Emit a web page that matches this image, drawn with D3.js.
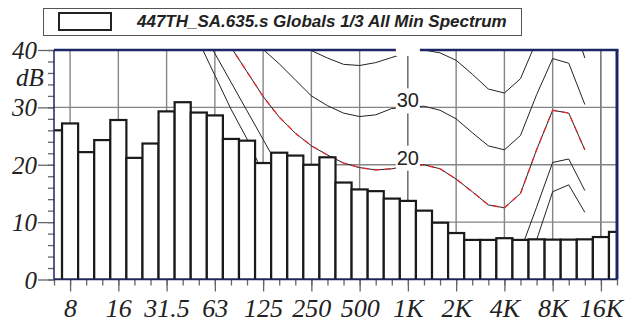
<!DOCTYPE html>
<meta charset="utf-8">
<script src="https://d3js.org/d3.v7.min.js"></script>
<style>
  body { margin: 0; background: #fff; }
</style>
<div id="chart"></div>
<script>
// 1/3 octave bands
var bands = ["6.3","8","10","12.5","16","20","25","31.5","40","50","63","80","100","125","160","200","250","315","400","500","630","800","1K","1.25K","1.6K","2K","2.5K","3.15K","4K","5K","6.3K","8K","10K","12.5K","16K","20K"];
// min spectrum, dB
var levels = [26.0,27.2,22.2,24.3,27.8,21.2,23.7,29.3,30.9,29.1,28.6,24.5,24.2,20.3,22.1,21.6,20.0,21.3,16.9,15.7,15.4,14.1,13.7,12.0,9.9,8.1,6.9,6.9,7.2,6.9,7.0,6.95,6.95,7.0,7.4,8.3];
var tickLabels = ["8","16","31.5","63","125","250","500","1K","2K","4K","8K","16K"];
var yTicks = [0,10,20,30,40];

// equal loudness contours, 50 Hz .. 12.5 kHz
var contourBands = bands.slice(9, 34);
var contour40 = [70,64,58,53,49,47,43,39.9,38.6,37.5,37.3,37.8,38.7,39.6,40.0,39.5,38.2,35.8,33.2,32.5,35.0,41.6,48.5,47.5,38.6];
var contour30 = [60,54,48,43.5,40.1,37.6,34.8,32.0,30.3,29.0,28.4,28.7,29.8,30.0,30.2,29.5,28.0,25.6,23.3,22.6,25.1,32.2,38.5,37.7,30.5];
var contour20 = [51,46,40.5,36.2,31.9,28.3,25.5,23.3,21.7,20.3,19.5,19.1,19.3,19.8,20.0,19.3,17.5,15.3,13.0,12.5,15.0,22.6,29.5,29.0,22.6];
var contour10 = [44.4,39.4,34.4,29.4,24.4,19.4,16.5,14.5,13.0,12.0,11.0,10.3,10.0,10.0,10.0,9.0,7.0,5.0,3.2,2.6,5.0,12.6,20.4,21.0,15.5];
var contour0 = [41.5,35.6,29.7,24.5,18.5,14.0,11.0,8.5,6.5,5.0,4.0,3.0,2.5,2.5,2.5,1.5,0,-2,-4,-4.5,-2,6.9,15.3,16.5,11.7];
var contourLabels = [40,30,20];

var pLeft = 54, pRight = 617, pTop = 50, pBottom = 279.5;
var navy = "#1c2566";
var serif = "'Liberation Serif', 'Times New Roman', serif";
var sans = "'Liberation Sans', Arial, sans-serif";

var svg = d3.select("#chart").append("svg")
    .attr("width", 630)
    .attr("height", 323);

var x = d3.scalePoint()
    .domain(bands)
    .range([pLeft, pRight]);
var step = x.step();

var y = d3.scaleLinear()
    .domain([0, 40])
    .range([pBottom, pTop]);

svg.append("clipPath").attr("id", "plot")
  .append("rect")
    .attr("x", pLeft).attr("y", pTop)
    .attr("width", pRight - pLeft).attr("height", pBottom - pTop);
svg.append("clipPath").attr("id", "boxes")
  .append("rect")
    .attr("x", pLeft).attr("y", pTop - 3)
    .attr("width", pRight - pLeft).attr("height", pBottom - pTop + 3);

// Title / legend
svg.append("rect")
    .attr("x", 43.5).attr("y", 8.5)
    .attr("width", 478).attr("height", 27)
    .attr("fill", "none").attr("stroke", "#555").attr("stroke-width", 1);
svg.append("rect")
    .attr("x", 59).attr("y", 13)
    .attr("width", 52).attr("height", 17)
    .attr("fill", "#fff").attr("stroke", "#222").attr("stroke-width", 2);
svg.append("text")
    .attr("x", 137).attr("y", 27)
    .attr("fill", "#222")
    .style("font-family", sans)
    .style("font-weight", "bold")
    .style("font-style", "italic")
    .style("font-size", "17px")
    .text("447TH_SA.635.s Globals 1/3 All Min Spectrum");

// Grid
var grid = svg.append("g").attr("clip-path", "url(#plot)");
grid.selectAll(".vgrid")
  .data(tickLabels)
  .enter()
  .append("line")
    .attr("x1", function(d) { return x(d); })
    .attr("x2", function(d) { return x(d); })
    .attr("y1", pTop).attr("y2", pBottom)
    .attr("stroke", function(d) { return d == "1K" || d == "16K" ? "#222" : "#858585"; })
    .attr("stroke-width", function(d) { return d == "1K" || d == "16K" ? 1 : 1.4; });
grid.selectAll(".hgrid")
  .data([10, 20, 30])
  .enter()
  .append("line")
    .attr("x1", pLeft).attr("x2", pRight)
    .attr("y1", function(d) { return y(d); })
    .attr("y2", function(d) { return y(d); })
    .attr("stroke", "#858585")
    .attr("stroke-width", 1.4);

// Contours
var line = d3.line()
    .x(function(d, i) { return x(contourBands[i]); })
    .y(function(d) { return y(d); });
var curves = svg.append("g").attr("clip-path", "url(#plot)")
    .attr("fill", "none");
[contour40, contour30, contour20, contour10, contour0].forEach(function(c) {
  curves.append("path")
      .attr("d", line(c))
      .attr("stroke", "#222")
      .attr("stroke-width", 1);
});
curves.append("path")
    .attr("d", line(contour20))
    .attr("stroke", "#e8262b")
    .attr("stroke-width", 1.3)
    .attr("stroke-dasharray", "6,5");

// Bars
svg.append("g").attr("clip-path", "url(#plot)")
  .selectAll("rect")
  .data(levels)
  .enter()
  .append("rect")
    .attr("x", function(d, i) { return x(bands[i]) - step / 2; })
    .attr("y", function(d) { return y(d); })
    .attr("width", step)
    .attr("height", function(d) { return y(0) - y(d); })
    .attr("fill", "#fff")
    .attr("stroke", "#1a1a1a")
    .attr("stroke-width", 2.2);

// Axes
function styleTicks(g, size) {
  g.attr("font-family", serif).attr("font-style", "italic").attr("font-size", size);
  g.select(".domain").remove();
  g.selectAll("line").attr("stroke", "#666").attr("stroke-width", 1.3);
  g.selectAll("text")
      .attr("fill", "#222")
      .style("font-family", serif)
      .style("font-style", "italic")
      .style("font-size", size + "px");
}
svg.append("g")
    .attr("transform", "translate(" + pLeft + ",0)")
    .call(d3.axisLeft(y).tickValues(d3.range(0, 41, 2)).tickSize(6).tickFormat(""))
    .call(styleTicks, 25);
svg.append("g")
    .attr("transform", "translate(" + pLeft + ",0)")
    .call(d3.axisLeft(y).tickValues(yTicks).tickSize(16).tickPadding(1))
    .call(styleTicks, 25)
    .selectAll("text").attr("dy", "0.34em");
svg.append("text")
    .attr("x", 30).attr("y", 86)
    .attr("text-anchor", "middle")
    .attr("fill", "#222")
    .style("font-family", serif)
    .style("font-style", "italic")
    .style("font-size", "25px")
    .text("dB");

svg.append("g")
    .attr("transform", "translate(0," + pBottom + ")")
    .call(d3.axisBottom(x).tickSize(6).tickFormat(""))
    .call(styleTicks, 25);
svg.append("g")
    .attr("transform", "translate(0," + pBottom + ")")
    .call(d3.axisBottom(x).tickValues(tickLabels).tickSize(12).tickPadding(7))
    .call(styleTicks, 26);

// Frame
var frame = svg.append("g").attr("stroke", navy);
frame.append("line").attr("x1", pLeft).attr("x2", pLeft).attr("y1", pTop).attr("y2", pBottom).attr("stroke-width", 1.5);
frame.append("line").attr("x1", pLeft).attr("x2", pRight).attr("y1", pBottom).attr("y2", pBottom).attr("stroke-width", 1.5);
frame.append("line").attr("x1", pLeft).attr("x2", pRight + 1.5).attr("y1", pTop).attr("y2", pTop).attr("stroke-width", 2.5);
frame.append("line").attr("x1", pRight).attr("x2", pRight).attr("y1", pTop).attr("y2", pBottom).attr("stroke-width", 3);

// Contour labels at 1 kHz
var lab = svg.append("g");
lab.append("g").attr("clip-path", "url(#boxes)")
  .selectAll("rect")
  .data(contourLabels)
  .enter()
  .append("rect")
    .attr("x", x("1K") - 12)
    .attr("y", function(d) { return y(d) - 19; })
    .attr("width", 24)
    .attr("height", 25)
    .attr("fill", "#fff");
lab.append("g").attr("clip-path", "url(#plot)")
  .selectAll("text")
  .data(contourLabels)
  .enter()
  .append("text")
    .attr("x", x("1K"))
    .attr("y", function(d) { return y(d) - 7; })
    .attr("dy", "0.35em")
    .attr("text-anchor", "middle")
    .attr("fill", "#222")
    .style("font-family", sans)
    .style("font-size", "20px")
    .text(function(d) { return d; });
</script>
